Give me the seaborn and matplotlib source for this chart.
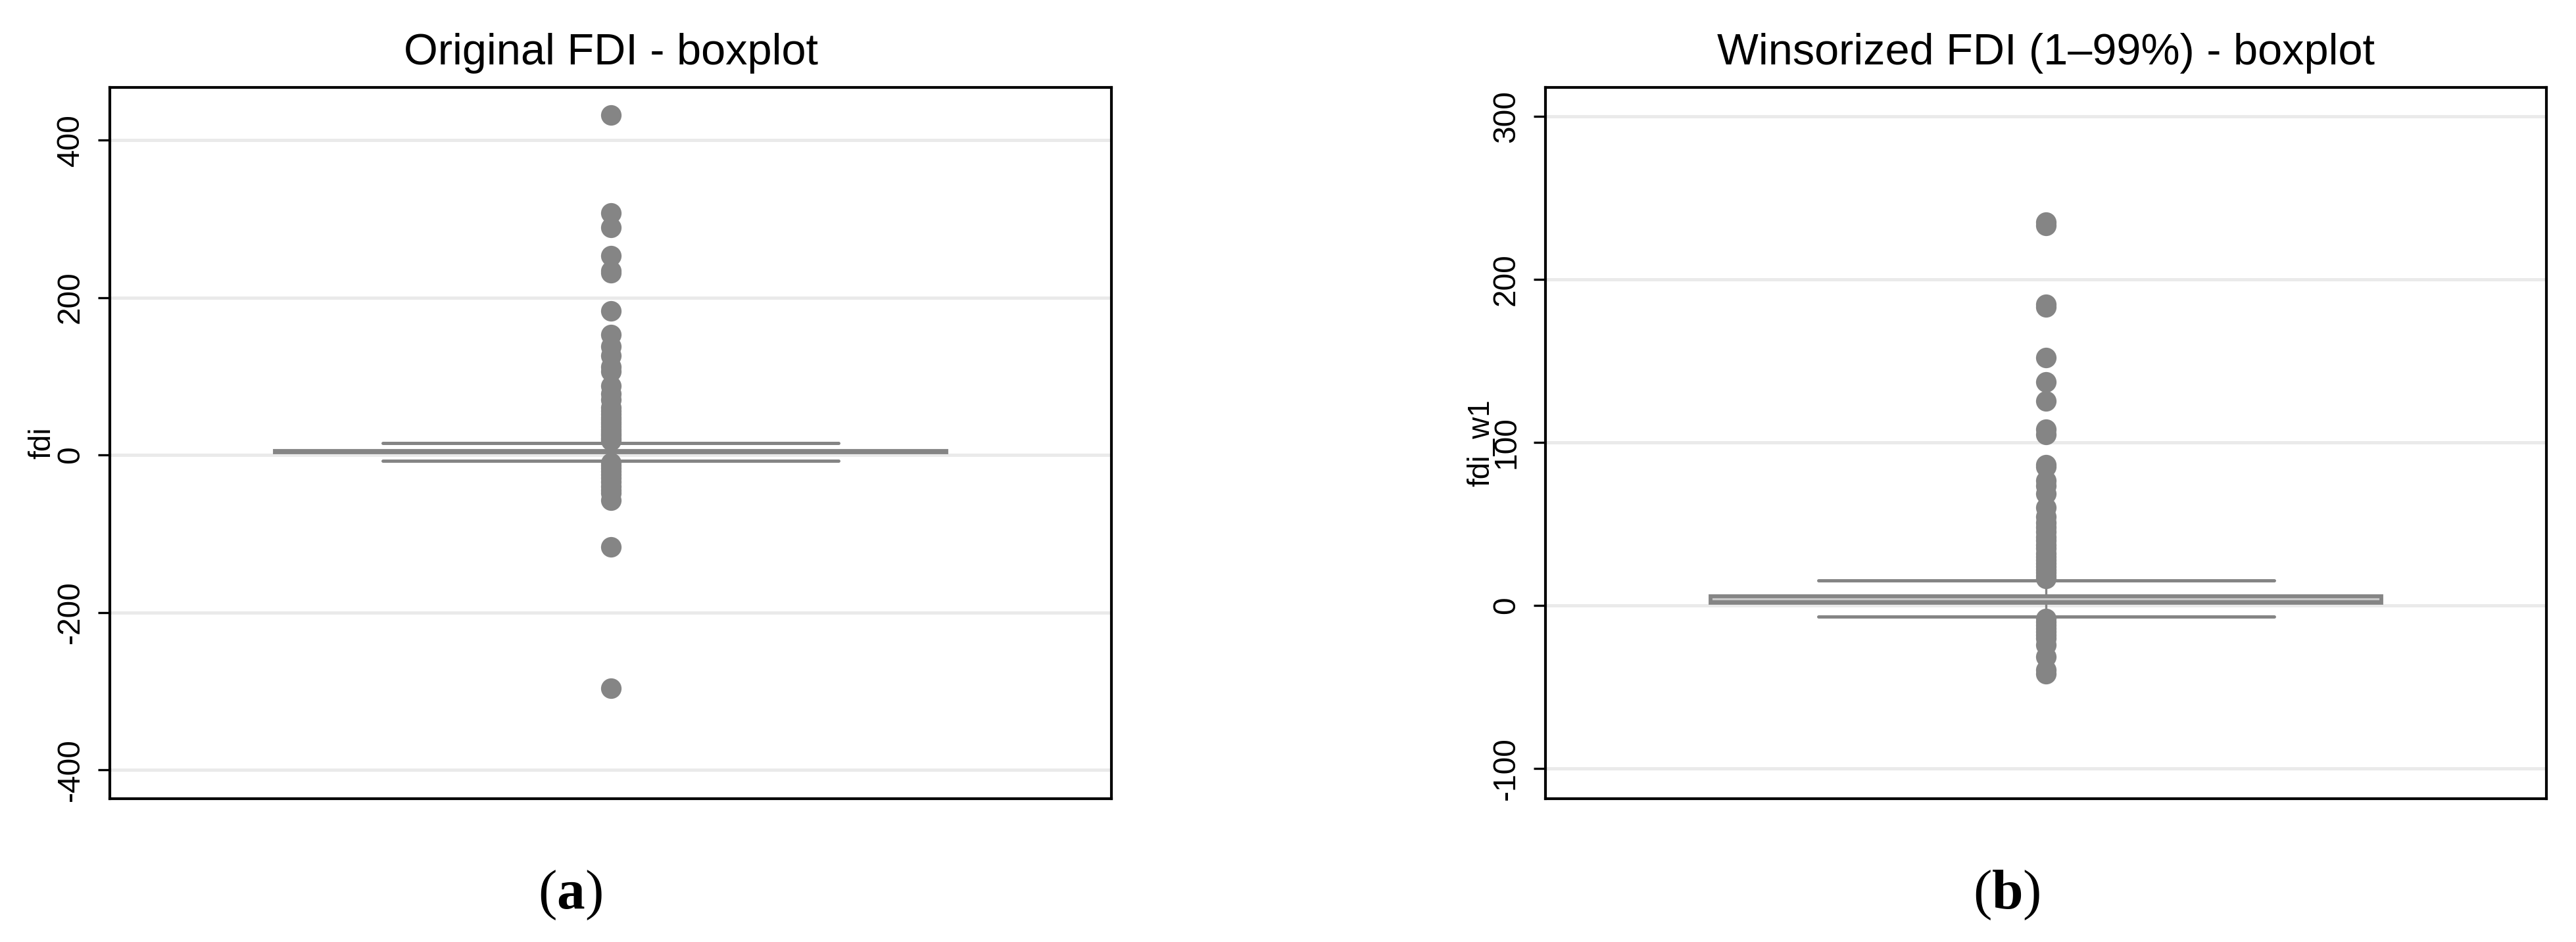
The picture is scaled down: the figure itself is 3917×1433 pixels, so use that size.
import matplotlib
matplotlib.use("Agg")
import matplotlib.pyplot as plt
import seaborn as sns
import pandas as pd

# ----------------------------
# Data
# ----------------------------
# box stats: lower whisker, q1, median, q3, upper whisker
fdi_box = [-7.1, 3.3, 4.2, 5.1, 15.4]
fdi_outliers = [432, 307, 289, 253, 234, 231, 183, 153, 138, 126, 112, 106,
                88, 78, 70, 60, 56, 52, 48, 45, 42, 39, 36, 33, 30, 28, 26,
                24, 22, 20, 18, -10, -13, -17, -21, -25, -29, -34, -40, -45,
                -48, -58, -117, -296]

fdi_w1_box = [-6.7, 1.8, 2.6, 5.8, 15.5]
fdi_w1_outliers = [235, 233, 184.5, 183, 152, 137, 125.5, 108, 105, 86.5, 85,
                   76.5, 73.5, 68.5, 60, 54.5, 51, 48, 45, 42, 40, 37, 35, 32,
                   30, 28, 26, 24, 22, 20, 18, 16.5, -8, -10, -12, -14, -16,
                   -18, -20, -24, -31.5, -39.5, -42]

titles = ["Original FDI - boxplot", "Winsorized FDI (1\u201399%) - boxplot"]
ylabels = ["fdi", "fdi_w1"]
yticks_a = [-400, -200, 0, 200, 400]
yticks_b = [-100, 0, 100, 200, 300]
panel_tags = ["a", "b"]

# ----------------------------
# Style
# ----------------------------
sns.set_style("white")
plt.rcParams["font.family"] = ["Liberation Sans", "DejaVu Sans"]
plt.rcParams["axes.unicode_minus"] = False
plt.rcParams["text.color"] = "black"
plt.rcParams["axes.labelcolor"] = "black"
plt.rcParams["ytick.color"] = "black"
plt.rcParams["mathtext.fontset"] = "custom"
plt.rcParams["mathtext.rm"] = "Liberation Serif"
plt.rcParams["mathtext.bf"] = "Liberation Serif:bold"

DARK = "#858585"
LIGHT = "#c8c8c8"
GRID = "#eaeaea"

fig = plt.figure(figsize=(3917 / 300, 1433 / 300), dpi=300)
fig.patch.set_facecolor("white")

ax_a = fig.add_axes([0.0426, 0.1521, 0.3889, 0.7551])
ax_b = fig.add_axes([0.6000, 0.1521, 0.3886, 0.7551])


def draw_panel(ax, box, outliers, title, ylabel, ylim, yticks, label_x):
    stats = [{
        "whislo": box[0], "q1": box[1], "med": box[2],
        "q3": box[3], "whishi": box[4], "fliers": [],
    }]
    ax.bxp(
        stats,
        positions=[0],
        widths=0.67,
        capwidths=0.455,
        patch_artist=True,
        showfliers=False,
        manage_ticks=False,
        boxprops=dict(facecolor=LIGHT, edgecolor=DARK, linewidth=1.4),
        medianprops=dict(color=DARK, linewidth=0.9),
        whiskerprops=dict(color=DARK, linewidth=0.8),
        capprops=dict(color=DARK, linewidth=1.2),
    )

    df = pd.DataFrame({"group": ylabel, "value": outliers})
    sns.stripplot(
        data=df, x="group", y="value", jitter=False,
        color=DARK, size=7.5, linewidth=0, ax=ax, zorder=3
    )

    ax.set_xlim(-0.5, 0.5)
    ax.set_xticks([])
    ax.set_xlabel("")
    ax.set_ylim(*ylim)
    ax.set_yticks(yticks)
    ax.set_yticklabels([str(t) for t in yticks])

    ax.yaxis.grid(True, color=GRID, linewidth=1.2)
    ax.xaxis.grid(False)
    ax.set_axisbelow(True)

    for sp in ax.spines.values():
        sp.set_visible(True)
        sp.set_color("black")
        sp.set_linewidth(1.0)

    ax.tick_params(axis="y", left=True, direction="out", length=4.3,
                   width=0.8, color="black", pad=4.6, labelsize=11.5,
                   labelrotation=90, labelcolor="black")
    for lab in ax.get_yticklabels():
        lab.set_va("center")

    ax.set_title(title, fontsize=16, pad=8.5, color="black")
    ax.set_ylabel(ylabel, fontsize=11, color="black")
    ax.yaxis.set_label_coords(label_x, 0.5)


draw_panel(ax_a, fdi_box, fdi_outliers, titles[0], ylabels[0],
           (-436.7, 466.8), yticks_a, -0.053)
draw_panel(ax_b, fdi_w1_box, fdi_w1_outliers, titles[1], ylabels[1],
           (-118.5, 317.7), yticks_b, -0.050)

# panel tags below each plot
for x, tag in zip([0.2213, 0.779], panel_tags):
    fig.text(x, 0.0495, "($\\mathbf{" + tag + "}$)", ha="center",
             va="center", fontsize=20.5, family="Liberation Serif")

fig.savefig("out.png", dpi=300)
